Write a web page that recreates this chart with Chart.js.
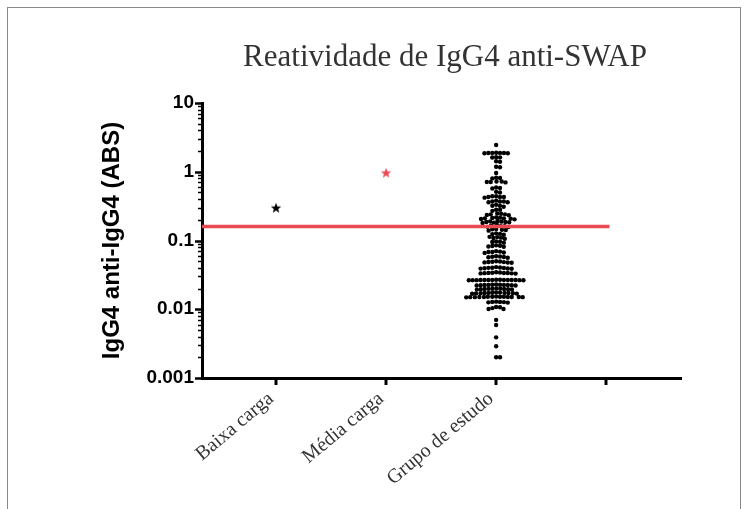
<!DOCTYPE html>
<html>
<head>
<meta charset="utf-8">
<script src="https://cdn.jsdelivr.net/npm/chart.js@4.4.0/dist/chart.umd.min.js"></script>
<style>
  html, body { margin: 0; padding: 0; background: #fff; }
  #wrap { width: 747px; height: 509px; }
</style>
</head>
<body>
<div id="wrap"><canvas id="myChart" width="747" height="509"></canvas></div>
<script>
(function(){
    "use strict";

    var chartTitle = 'Reatividade de IgG4 anti-SWAP';
    var yTitle = 'IgG4 anti-IgG4 (ABS)';
    var categories = ['Baixa carga', 'Média carga', 'Grupo de estudo', ''];
    var yTickValues = [0.001, 0.01, 0.1, 1, 10];
    var yTickLabels = ['0.001', '0.01', '0.1', '1', '10'];
    var baixaCarga = [0.30];
    var mediaCarga = [0.97];
    var cutoff = 0.16;
    // values read off the swarm, roughly row by row from the top
    var grupoEstudo = [
        2.45,
        1.89, 1.88, 1.87, 1.87, 1.86, 1.88, 1.86,
        1.63, 1.62, 1.61,
        1.42, 1.40,
        1.18, 1.16,
        0.96,
        0.82, 0.81, 0.80,
        0.72, 0.71, 0.71, 0.70, 0.72,
        0.58, 0.59, 0.57,
        0.51, 0.50,
        0.43, 0.44, 0.43, 0.42, 0.43, 0.44,
        0.37, 0.37, 0.38, 0.36, 0.37, 0.36,
        0.32, 0.32, 0.33, 0.31,
        0.28, 0.28, 0.27,
        0.24, 0.245, 0.235, 0.24, 0.247, 0.233,
        0.21, 0.215, 0.205, 0.21, 0.217, 0.203, 0.212, 0.208,
        0.186, 0.19, 0.182, 0.186, 0.192, 0.18, 0.188, 0.184,
        0.162, 0.166, 0.158, 0.162, 0.168, 0.157,
        0.142, 0.146, 0.139, 0.143, 0.147,
        0.124, 0.127, 0.121, 0.125,
        0.109, 0.112, 0.106, 0.11, 0.113,
        0.097, 0.095, 0.093, 0.096,
        0.085, 0.083, 0.081, 0.084, 0.082,
        0.07, 0.068, 0.066, 0.069, 0.067, 0.068,
        0.059, 0.0575, 0.056, 0.058, 0.057, 0.0585,
        0.05, 0.0487, 0.0475, 0.049, 0.048, 0.0495, 0.0485, 0.0478,
        0.041, 0.0398, 0.0388, 0.0402, 0.0392, 0.0405, 0.0395, 0.04, 0.039,
        0.0345, 0.0337, 0.033, 0.034, 0.0333, 0.0342, 0.0335, 0.0338, 0.0332, 0.0336,
        0.0268, 0.0267, 0.0266, 0.0266, 0.0265, 0.0267, 0.0266, 0.0265, 0.0268, 0.0266, 0.0264, 0.0267, 0.0265, 0.0266, 0.0264,
        0.0229, 0.0226, 0.0221, 0.0225, 0.0228, 0.0222, 0.0225, 0.0227, 0.0223, 0.0224, 0.0226,
        0.0201, 0.0198, 0.0194, 0.0197, 0.02, 0.0193, 0.0196, 0.0199, 0.0195, 0.0197,
        0.0175, 0.0173, 0.0169, 0.0172, 0.0176, 0.0168, 0.0172, 0.0174, 0.017, 0.0171, 0.0173, 0.0171,
        0.0151, 0.0152, 0.015, 0.0151, 0.0153, 0.0149, 0.0151, 0.0152, 0.015, 0.0151, 0.0152, 0.015, 0.0151, 0.0152,
        0.0129, 0.0128, 0.0125, 0.0127, 0.0128, 0.0126,
        0.0108, 0.0107, 0.0104, 0.0101, 0.0101,
        0.007, 0.0059, 0.0039, 0.0029, 0.002, 0.002
    ];

    var RED = '#e94b55';
    var X_MIN = 0.327, X_MAX = 4.68;
    var DOT_R = 2.2;
    var DOT_GAP = 3.9;

    function makeStar(color, size){
        var c = document.createElement('canvas');
        c.width = size; c.height = size;
        var g = c.getContext('2d');
        var cx = size / 2, cy = size / 2 + 0.5, ro = size / 2 - 0.5, ri = ro * 0.42;
        g.beginPath();
        for (var k = 0; k < 10; k++){
            var r = (k % 2 === 0) ? ro : ri;
            var a = -Math.PI / 2 + k * Math.PI / 5;
            if (k === 0) g.moveTo(cx + r * Math.cos(a), cy + r * Math.sin(a));
            else g.lineTo(cx + r * Math.cos(a), cy + r * Math.sin(a));
        }
        g.closePath();
        g.fillStyle = color;
        g.fill();
        return c;
    }

    // beeswarm: push each dot sideways until it no longer overlaps
    function swarm(chart, values, center){
        var xs = chart.scales.x, ys = chart.scales.y;
        var cx = xs.getPixelForValue(center);
        var d = DOT_GAP;
        var pts = values.map(function(v, i){ return {i: i, py: ys.getPixelForValue(v)}; });
        pts.sort(function(a, b){ return a.py - b.py; });
        var placed = [];
        var out = [];
        pts.forEach(function(p){
            var near = placed.filter(function(q){ return Math.abs(q.py - p.py) < d; });
            var cands = [0];
            near.forEach(function(q){
                var dx = Math.sqrt(d * d - (q.py - p.py) * (q.py - p.py));
                cands.push(q.dx + dx, q.dx - dx);
            });
            cands.sort(function(a, b){ return Math.abs(a) - Math.abs(b); });
            var best = 0;
            for (var k = 0; k < cands.length; k++){
                var c = cands[k];
                var ok = near.every(function(q){
                    var ex = q.dx - c, ey = q.py - p.py;
                    return ex * ex + ey * ey >= d * d - 0.01;
                });
                if (ok){ best = c; break; }
            }
            p.dx = best;
            placed.push(p);
            out[p.i] = {x: xs.getValueForPixel(cx + best), y: values[p.i]};
        });
        return out;
    }

    var framePlugin = {
        id: 'frame',
        beforeDraw: function(chart){
            var ctx = chart.ctx;
            ctx.save();
            ctx.fillStyle = '#fff';
            ctx.fillRect(0, 0, chart.width, chart.height);
            ctx.strokeStyle = '#8a8a8a';
            ctx.lineWidth = 1;
            ctx.strokeRect(7.5, 7.5, 733, 530);
            ctx.restore();
        },
        afterDraw: function(chart){
            var ctx = chart.ctx, xs = chart.scales.x, ys = chart.scales.y;
            var area = chart.chartArea;
            ctx.save();
            ctx.strokeStyle = '#000';
            // y ticks, major and minor
            for (var e = -3; e <= 1; e++){
                for (var m = 1; m <= 9; m++){
                    var v = m * Math.pow(10, e);
                    if (v > 10.0001) break;
                    var py = Math.round(ys.getPixelForValue(v)) + 0.5;
                    ctx.lineWidth = m === 1 ? 2.5 : 1.5;
                    ctx.beginPath();
                    ctx.moveTo(area.left, py);
                    ctx.lineTo(area.left - (m === 1 ? 7 : 4), py);
                    ctx.stroke();
                }
            }
            // x ticks
            ctx.lineWidth = 3;
            categories.forEach(function(c, i){
                var px = Math.round(xs.getPixelForValue(i + 1));
                ctx.beginPath();
                ctx.moveTo(px, area.bottom);
                ctx.lineTo(px, area.bottom + 7);
                ctx.stroke();
            });
            // title
            ctx.fillStyle = '#333';
            ctx.font = '31px "Liberation Serif", "Times New Roman", serif';
            ctx.textAlign = 'center';
            ctx.textBaseline = 'middle';
            ctx.fillText(chartTitle, 445, 58);
            ctx.restore();
        }
    };

    var ctx = document.getElementById('myChart').getContext('2d');
    var myChart = new Chart(ctx, {
        type: 'scatter',
        data: {
            datasets: [{
                type: 'line',
                data: [{x: X_MIN, y: cutoff}, {x: categories.length + 0.03, y: cutoff}],
                borderColor: RED,
                borderWidth: 3.5,
                pointRadius: 0,
                fill: false
            }, {
                data: baixaCarga.map(function(v){ return {x: 1, y: v}; }),
                pointStyle: makeStar('#000', 12),
                pointRadius: 6
            }, {
                data: mediaCarga.map(function(v){ return {x: 2, y: v}; }),
                pointStyle: makeStar(RED, 12),
                pointRadius: 6
            }, {
                data: grupoEstudo.map(function(v){ return {x: 3, y: v}; }),
                backgroundColor: '#000',
                borderWidth: 0,
                pointRadius: DOT_R,
                pointHoverRadius: DOT_R
            }]
        },
        options: {
            responsive: false,
            animation: false,
            layout: { autoPadding: false, padding: { top: 103, right: 66, bottom: 0, left: 90 } },
            plugins: { legend: { display: false }, tooltip: { enabled: false } },
            scales: {
                x: {
                    type: 'linear',
                    min: X_MIN,
                    max: X_MAX,
                    grid: { display: false, drawTicks: false },
                    border: { display: true, width: 3, color: '#000' },
                    afterBuildTicks: function(scale){
                        scale.ticks = categories.map(function(c, i){ return {value: i + 1}; });
                    },
                    afterFit: function(scale){ scale.height = 131; },
                    ticks: {
                        autoSkip: false,
                        minRotation: 40,
                        maxRotation: 40,
                        padding: 9,
                        labelOffset: -5,
                        color: '#333',
                        font: { family: '"Liberation Serif", "Times New Roman", serif', size: 20 },
                        callback: function(value, index){ return categories[index]; }
                    }
                },
                y: {
                    type: 'logarithmic',
                    min: 0.001,
                    max: 10,
                    grid: { display: false, drawTicks: false },
                    border: { display: true, width: 3, color: '#000' },
                    afterBuildTicks: function(scale){
                        scale.ticks = yTickValues.map(function(v){ return {value: v}; });
                    },
                    afterFit: function(scale){ scale.width = 112; },
                    ticks: {
                        autoSkip: false,
                        padding: 8,
                        color: '#000',
                        font: { family: '"Liberation Sans", Arial, sans-serif', size: 19, weight: 'bold' },
                        callback: function(value, index){ return yTickLabels[index]; }
                    },
                    title: {
                        display: true,
                        text: yTitle,
                        color: '#000',
                        padding: { top: 8, bottom: 0 },
                        font: { family: '"Liberation Sans", Arial, sans-serif', size: 24, weight: 'bold' }
                    }
                }
            }
        },
        plugins: [framePlugin]
    });

    myChart.data.datasets[3].data = swarm(myChart, grupoEstudo, 3);
    myChart.update('none');
})();
</script>
</body>
</html>
